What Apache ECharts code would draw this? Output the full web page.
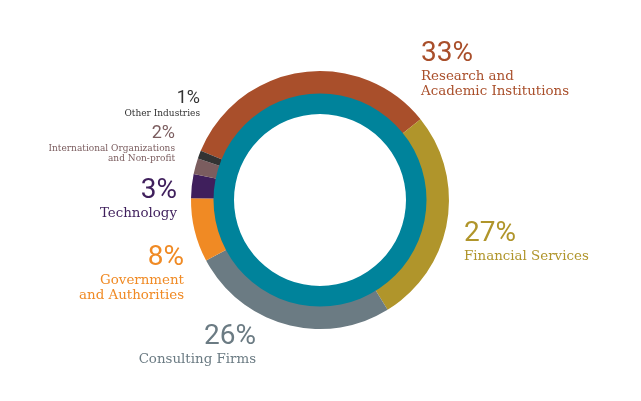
<!DOCTYPE html>
<html>
<head>
<meta charset="utf-8">
<script src="https://cdn.jsdelivr.net/npm/echarts@6/dist/echarts.min.js"></script>
<style>
  html, body { margin: 0; padding: 0; background: #fff; }
  #chart { width: 641px; height: 401px; }
</style>
</head>
<body>
<div id="chart"></div>
<script>
const categories = ['Research and\nAcademic Institutions', 'Financial Services', 'Consulting Firms',
    'Government\nand Authorities', 'Technology', 'International Organizations\nand Non-profit', 'Other Industries'];
const shares = [33, 27, 26, 8, 3, 2, 1];
const palette = ['#a94f2b', '#b0952b', '#6b7b83', '#f08a24', '#3f1f5c', '#7b5d5f', '#333333'];

// where each label block sits: [x, top, align, small]
const labelSpots = [
    [421, 38, 'left', false],
    [464, 218, 'left', false],
    [256, 321, 'right', false],
    [184, 242, 'right', false],
    [177, 175, 'right', false],
    [175, 123, 'right', true],
    [200, 88, 'right', true]
];

function setChart() {
    const chart = echarts.init(document.getElementById('chart'));

    function richFor(align) {
        return {
            pct: {fontFamily: 'Roboto', fontSize: 28, lineHeight: 31, align: align},
            name: {fontFamily: 'DejaVu Serif', fontSize: 13.4, lineHeight: 15, align: align},
            pcts: {fontFamily: 'Roboto', fontSize: 18, lineHeight: 21, align: align},
            names: {fontFamily: 'DejaVu Serif', fontSize: 9, lineHeight: 10, align: align}
        };
    }

    let data = categories.map((name, i) => ({
        name: name,
        value: shares[i],
        itemStyle: {color: palette[i]},
        label: {color: palette[i], rich: richFor(labelSpots[i][2])}
    }));

    chart.setOption({
        animation: false,
        series: [
            {
                type: 'pie',
                center: [320, 200],
                radius: [104, 129],
                startAngle: 157.6,
                clockwise: true,
                silent: true,
                data: data,
                labelLine: {show: false},
                label: {
                    show: true,
                    formatter: p => {
                        const small = labelSpots[p.dataIndex][3];
                        return small
                            ? `{pcts|${p.value}%}\n{names|${p.name}}`
                            : `{pct|${p.value}%}\n{name|${p.name}}`;
                    }
                },
                labelLayout: params => {
                    const s = labelSpots[params.dataIndex];
                    return {x: s[0], y: s[1], align: s[2], verticalAlign: 'top', hideOverlap: false};
                }
            },
            {
                type: 'pie',
                center: [320, 200],
                radius: [86, 106.5],
                silent: true,
                label: {show: false},
                data: [{value: 1, itemStyle: {color: '#00839b'}}]
            }
        ]
    });
}

window.addEventListener('DOMContentLoaded', setChart);
</script>
</body>
</html>
